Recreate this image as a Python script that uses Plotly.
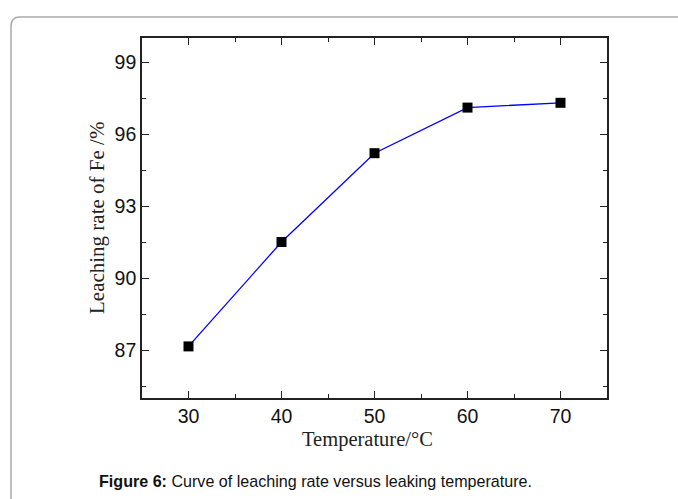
import plotly.graph_objects as go

temperature = [30, 40, 50, 60, 70]
leaching_rate = [87.15, 91.5, 95.2, 97.1, 97.3]

x_ticks = [30, 40, 50, 60, 70]
y_ticks = [87, 90, 93, 96, 99]

W, H = 678, 499
L, R, T, B = 142, 71, 38, 101
pw, ph = W - L - R, H - T - B

def px(x):
    return (x - L) / pw

def py(y):
    return (H - B - y) / ph

fig = go.Figure()
fig.add_trace(go.Scatter(
    x=temperature, y=leaching_rate, mode="lines+markers",
    line=dict(color="#0000ff", width=1.3),
    marker=dict(symbol="square", size=10, color="black"),
    showlegend=False,
))

axis_common = dict(
    showline=True, linecolor="#222222", linewidth=1.6, mirror="allticks",
    ticks="inside", ticklen=7, tickwidth=1, tickcolor="#222222",
    showgrid=False, zeroline=False,
    tickfont=dict(family="Liberation Sans, Arial", size=19.5, color="#111111"),
)

fig.update_xaxes(range=[25, 75], tickvals=x_ticks,
                 minor=dict(ticks="inside", ticklen=4, dtick=5, tick0=25, tickcolor="#222222"),
                 **axis_common)
fig.update_yaxes(range=[85, 100], tickvals=y_ticks,
                 minor=dict(ticks="inside", ticklen=4, dtick=1.5, tick0=85.5, tickcolor="#222222"),
                 **axis_common)

# rounded frame
x0, y0 = px(11), py(17)
x1, y1 = px(690), py(510)
rx, ry = 9 / pw, 9 / ph
path = (f"M {x0},{y1} L {x0},{y0 - ry} Q {x0},{y0} {x0 + rx},{y0} L {x1},{y0}")
fig.add_shape(type="path", path=path, xref="paper", yref="paper",
              line=dict(color="#aaaaaa", width=1.5))

fig.add_annotation(x=px(97), y=0.5, xref="paper", yref="paper",
                   xanchor="center", yanchor="middle",
                   text="Leaching rate of Fe /%", textangle=-90, showarrow=False,
                   font=dict(family="Liberation Serif, Times New Roman", size=21, color="#222222"))
fig.add_annotation(x=px(367), y=py(439), xref="paper", yref="paper",
                   xanchor="center", yanchor="middle",
                   text="Temperature/°C", showarrow=False,
                   font=dict(family="Liberation Serif, Times New Roman", size=20.5, color="#222222"))
fig.add_annotation(x=px(97), y=py(481), xref="paper", yref="paper",
                   xanchor="left", yanchor="middle",
                   text="<b>Figure 6:</b> Curve of leaching rate versus leaking temperature.",
                   showarrow=False,
                   font=dict(family="Liberation Sans, Arial", size=16.1, color="#111111"))

fig.update_layout(
    width=W, height=H,
    margin=dict(l=L, r=R, t=T, b=B),
    paper_bgcolor="white", plot_bgcolor="white",
)

fig.write_html("out.html")
